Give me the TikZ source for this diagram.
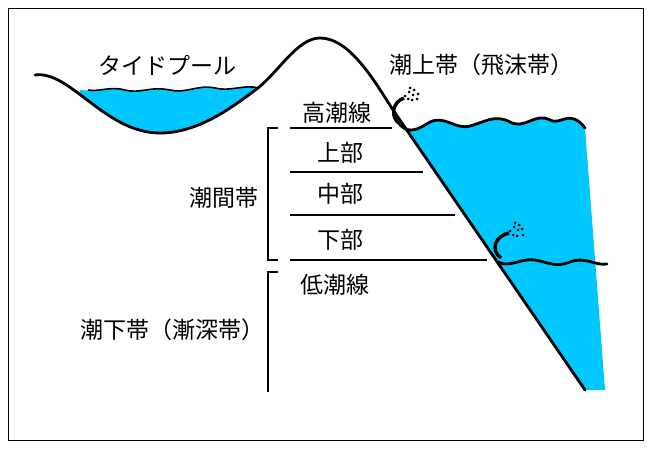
\documentclass[tikz,border=0pt]{standalone}
\usepackage{fontspec}
\newfontfamily\cjk{Noto Sans CJK JP}
\definecolor{sea}{HTML}{00C8FF}
\begin{document}
\begin{tikzpicture}[x=1pt,y=-1pt,
  lbl/.style={font=\cjk\fontsize{23}{23}\selectfont,inner sep=0},
  ln/.style={line width=1.6pt},
  thick3/.style={line width=2.8pt,line cap=round}]
\useasboundingbox (0,0) rectangle (652,454);
\node[draw,line width=0.8pt,minimum width=635pt,minimum height=432pt,inner sep=0] (frame) at (325.5,224) {};
\def\ground{(35,75) .. controls (70,70) and (105,133) .. (160,133) .. controls (200,133) and (235,105) .. (258,88) .. controls (280,70) and (298,38) .. (320,38) .. controls (350,38) and (375,82) .. (393,110) -- (585,390)}
\begin{scope}
\clip \ground -- (640,390) -- (640,0) -- (35,0) -- cycle;
\fill[sea] (80,90) .. controls (100,92) and (110,86) .. (125,90) .. controls (140,94) and (150,86) .. (170,90) .. controls (185,94) and (200,84) .. (215,88) .. controls (230,92) and (245,84) .. (265,88) -- (265,150) -- (80,150) -- cycle;
\fill[sea] (395,125) .. controls (410,135) and (420,128) .. (430,122) .. controls (445,115) and (455,130) .. (470,126) .. controls (485,122) and (495,114) .. (510,122) .. controls (525,130) and (535,112) .. (550,120) .. controls (560,126) and (570,108) .. (585,128) -- (605,390) -- (395,390) -- cycle;
\end{scope}
\draw[line width=1.6pt] (88,90) .. controls (100,92) and (110,86) .. (125,90) .. controls (140,94) and (150,86) .. (170,90) .. controls (185,94) and (200,84) .. (215,88) .. controls (230,92) and (245,84) .. (258,88);
\draw[thick3] (400,125) .. controls (410,135) and (420,128) .. (430,122) .. controls (445,115) and (455,130) .. (470,126) .. controls (485,122) and (495,114) .. (510,122) .. controls (525,130) and (535,112) .. (550,120) .. controls (560,126) and (570,108) .. (585,128);
\draw[thick3] (498,262) .. controls (510,268) and (520,258) .. (535,260) .. controls (548,262) and (555,268) .. (570,262) .. controls (585,256) and (595,266) .. (607,264);
\draw[thick3] \ground;
\draw[line width=3.4pt] (400,124) .. controls (390,118) and (392,102) .. (404,98);
\draw[line width=3.4pt] (501,258) .. controls (490,250) and (495,236) .. (509,233);
\foreach \p in {(405,96),(409,92),(413,95),(408,99),(414,90),(418,94),(412,100),(417,99),(410,88)} \fill \p circle (1.5);
\foreach \p in {(510,231),(514,227),(518,230),(513,235),(519,225),(522,229),(517,236),(523,235),(515,223)} \fill \p circle (1.5);
\draw[ln] (290,128) -- (392,128);
\draw[ln] (290,172) -- (423,172);
\draw[ln] (290,215) -- (455,215);
\draw[ln] (290,260) -- (487,260);
\draw[ln] (278,128) -- (268,128) -- (268,260) -- (278,260);
\draw[ln] (278,272) -- (268,272) -- (268,392);
\node[lbl] (tp) at (167,65) {タイドプール};
\node[lbl] (jo) at (481,65) {潮上帯（飛沫帯）};
\node[lbl] (ko) at (337,113) {高潮線};
\node[lbl] (ub) at (340,153) {上部};
\node[lbl] (cb) at (340,194) {中部};
\node[lbl] (kb) at (340,240) {下部};
\node[lbl] (kk) at (224,198) {潮間帯};
\node[lbl] (tei) at (335,285) {低潮線};
\node[lbl] (ka) at (172,330) {潮下帯（漸深帯）};
\end{tikzpicture}
\end{document}
